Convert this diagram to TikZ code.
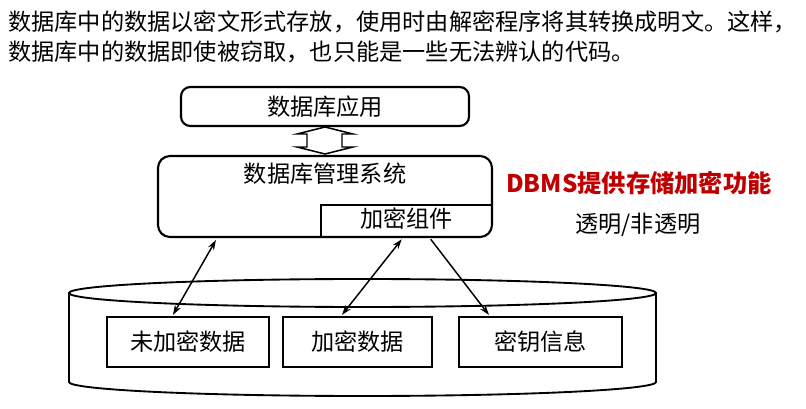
\documentclass[tikz,border=0pt]{standalone}
\usepackage{fontspec}
\newfontfamily\cjk{Noto Sans CJK SC}
\usetikzlibrary{arrows.meta,calc}
\newdimen\pu \pu=0.75pt
\definecolor{dbred}{RGB}{192,0,0}
\begin{document}
\begin{tikzpicture}[x=0.75pt,y=-0.75pt,
  >={Stealth[length=7.5pt,width=5pt]},
  txt/.style={font=\cjk\fontsize{17.4pt}{21pt}\selectfont, inner sep=0pt},
  rbox/.style={draw, line width=1.6pt, rounded corners=#1, inner sep=0pt},
  sbox/.style={draw, line width=1.6pt, inner sep=0pt, txt, minimum height=50\pu},
  cyl/.style={line width=1.4pt},
  link/.style={line width=1.1pt},
  hollow/.style={line width=1.1pt, fill=white, line join=miter}
]
\useasboundingbox (0,0) rectangle (806,409);

% intro text
\node[txt, anchor=base west] (l1) at (8,31) {数据库中的数据以密文形式存放，使用时由解密程序将其转换成明文。这样，};
\node[txt, anchor=base west] (l2) at (8,61) {数据库中的数据即使被窃取，也只能是一些无法辨认的代码。};

% application box
\node[rbox=7pt, txt, minimum width=288\pu, minimum height=39\pu] (app) at (325,106.5) {数据库应用};

% hollow double arrow
\draw[hollow] (325,127) -- (353,134) -- (342,134) -- (342,147) -- (353,147) -- (325,154)
  -- (297,147) -- (307,147) -- (307,134) -- (297,134) -- cycle;

% DBMS box
\node[rbox=9pt, minimum width=334\pu, minimum height=81\pu] (dbms) at (325,196.5) {};
\node[txt] (dbmstxt) at (325,174) {数据库管理系统};
\node[txt, minimum width=171\pu, minimum height=32\pu, inner sep=0pt] (enc) at (406.5,221) {};
\draw[line width=1.6pt] (enc.south west) -- (enc.north west) -- (enc.north east);
\node[txt] (enctxt) at (406.5,219) {加密组件};

% side notes
\node[txt, font=\cjk\bfseries\fontsize{18.2pt}{22pt}\selectfont, text=dbred] (note1) at (639,183) {DBMS提供存储加密功能};
\node[txt] (note2) at (638,225) {透明/非透明};

% cylinder
\draw[cyl, fill=white] (362.5,293) ellipse [x radius=293.5, y radius=14];
\draw[cyl] (69,293) -- (69,382) arc[start angle=180, end angle=0, x radius=293.5, y radius=14] -- (656,293);

% storage boxes
\node[sbox, minimum width=162\pu] (b1) at (188,342) {未加密数据};
\node[sbox, minimum width=149\pu] (b2) at (357.5,342) {加密数据};
\node[sbox, minimum width=163\pu] (b3) at (540.5,342) {密钥信息};

% connectors
\draw[link, <->] ($(dbms.south west)+(59,2)$) -- ($(b1.north west)+(67,-1)$);
\draw[link, <->] ($(enc.south west)+(81,2)$) -- ($(b2.north west)+(60,-1)$);
\draw[link, ->] ($(enc.south west)+(110,2)$) -- ($(b3.north west)+(31,-1)$);
\end{tikzpicture}
\end{document}
